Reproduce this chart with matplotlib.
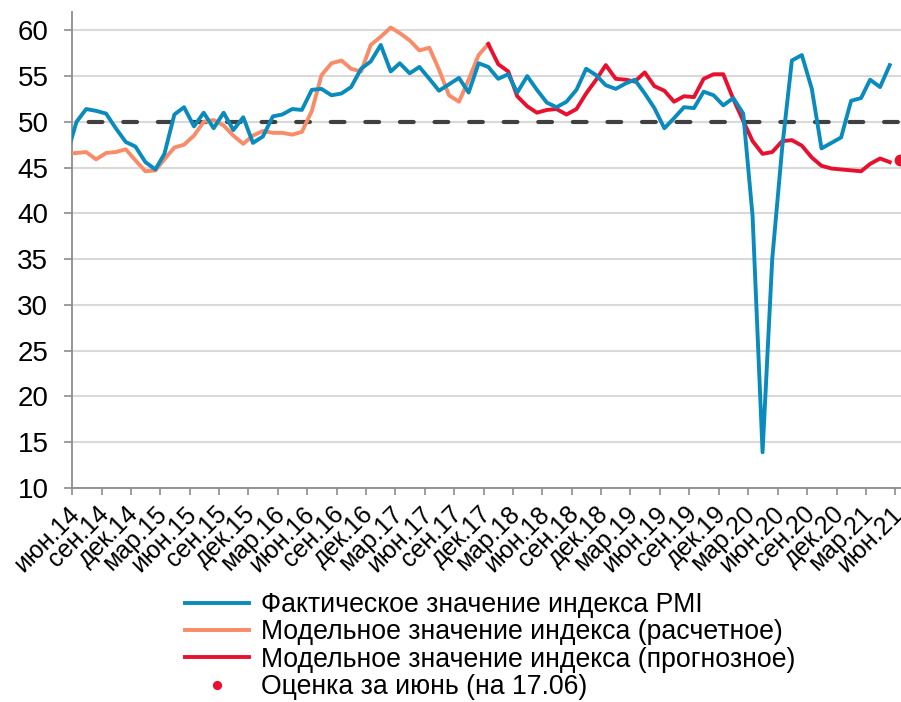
import matplotlib
matplotlib.use("Agg")
import matplotlib.pyplot as plt
import matplotlib.transforms as mtransforms
import pandas as pd

plt.rcParams['font.family'] = ['Liberation Sans', 'DejaVu Sans']

# monthly values, May 2014 .. May 2021 (points sit mid-month)
months = pd.date_range('2014-05-01', '2021-05-01', freq='MS') + pd.Timedelta(days=14)

pmi_fact = [46.3, 50.0, 51.4, 51.2, 50.9, 49.3, 47.8, 47.3, 45.6, 44.8, 46.5,
            50.8, 51.6, 49.5, 51.0, 49.3, 51.0, 49.1, 50.5, 47.7, 48.4, 50.6,
            50.8, 51.4, 51.3, 53.5, 53.6, 52.9, 53.1, 53.8, 55.8, 56.6, 58.4,
            55.5, 56.4, 55.3, 56.0, 54.7, 53.4, 54.1, 54.8, 53.2, 56.4, 56.0,
            54.7, 55.2, 53.2, 55.0, 53.5, 52.1, 51.6, 52.2, 53.5, 55.8, 55.1,
            54.0, 53.6, 54.2, 54.6, 53.1, 51.5, 49.3, 50.4, 51.6, 51.5, 53.3,
            52.9, 51.8, 52.6, 50.9, 39.7, 13.9, 35.0, 47.2, 56.7, 57.3, 53.6,
            47.1, 47.7, 48.3, 52.3, 52.6, 54.6, 53.8, 56.2]

# model (calculated): May 2014 .. Dec 2017
pmi_model_calc = [46.5, 46.6, 46.7, 45.9, 46.6, 46.7, 47.0, 45.8, 44.6, 44.7,
                  45.9, 47.2, 47.5, 48.5, 50.0, 50.2, 49.6, 48.5, 47.6, 48.5,
                  49.0, 48.8, 48.8, 48.6, 48.9, 51.2, 55.1, 56.4, 56.7, 55.8,
                  55.5, 58.4, 59.3, 60.3, 59.7, 58.9, 57.8, 58.1, 55.7, 52.9,
                  52.2, 54.6, 57.3, 58.5]

# model (forecast): Dec 2017 .. May 2021
pmi_model_fcst = [58.5, 56.3, 55.5, 52.8, 51.7, 51.0, 51.3, 51.4, 50.8, 51.4,
                  53.1, 54.6, 56.2, 54.7, 54.6, 54.4, 55.4, 53.9, 53.4, 52.2,
                  52.8, 52.7, 54.7, 55.2, 55.2, 52.5, 50.1, 47.9, 46.5, 46.7,
                  47.9, 48.0, 47.4, 46.1, 45.2, 44.9, 44.8, 44.7, 44.6, 45.4,
                  46.0, 45.6]

june_date = pd.Timestamp('2021-06-15')
june_estimate = 45.85

tick_dates = pd.date_range('2014-06-01', '2021-06-01', freq='3MS')
tick_labels = ['июн.14', 'сен.14', 'дек.14', 'мар.15', 'июн.15', 'сен.15',
               'дек.15', 'мар.16', 'июн.16', 'сен.16', 'дек.16', 'мар.17',
               'июн.17', 'сен.17', 'дек.17', 'мар.18', 'июн.18', 'сен.18',
               'дек.18', 'мар.19', 'июн.19', 'сен.19', 'дек.19', 'мар.20',
               'июн.20', 'сен.20', 'дек.20', 'мар.21', 'июн.21']

fig = plt.figure(figsize=(9.01, 7.02), dpi=100)
ax = fig.add_axes([72 / 901, 1 - 488 / 702, 1 - 72 / 901, (488 - 12) / 702])

blue = '#0a8bbd'
orange = '#f98b68'
red = '#e9102f'

ax.axhline(50, color='#404040', lw=3.0, linestyle=(4.3, (3.3, 5.0)),
           dash_capstyle='round', zorder=2)
ax.plot(months, pmi_fact, color=blue, lw=2.8, zorder=4,
        label='Фактическое значение индекса PMI')
ax.plot(months[:len(pmi_model_calc)], pmi_model_calc, color=orange, lw=2.8, zorder=3,
        label='Модельное значение индекса (расчетное)')
ax.plot(months[len(pmi_model_calc) - 1:], pmi_model_fcst, color=red, lw=2.8, zorder=3,
        label='Модельное значение индекса (прогнозное)')
ax.plot([june_date], [june_estimate], 'o', color=red, ms=7.5, clip_on=False, zorder=5,
        label='Оценка за июнь (на 17.06)')

ax.set_ylim(10, 62)
ax.set_yticks(range(10, 61, 5))
ax.set_xlim(pd.Timestamp('2014-06-01'), pd.Timestamp('2021-06-19'))
ax.set_xticks(tick_dates)
ax.set_xticklabels(tick_labels)

ax.grid(axis='y', color='#d9d9d9', lw=1.5, zorder=0)
ax.set_axisbelow(True)
for s in ['top', 'right']:
    ax.spines[s].set_visible(False)
for s in ['left', 'bottom']:
    ax.spines[s].set_color('#8c8c8c')
    ax.spines[s].set_linewidth(1.3)

ax.tick_params(axis='y', length=6, width=1.2, color='#8c8c8c', pad=11, labelsize=20)
ax.tick_params(axis='x', length=5, width=1.2, color='#8c8c8c', pad=5, labelsize=18)

shift = mtransforms.ScaledTranslation(-5 / 100, 0, fig.dpi_scale_trans)
for lab in ax.get_xticklabels():
    lab.set_rotation(45)
    lab.set_ha('right')
    lab.set_va('top')
    lab.set_rotation_mode('anchor')
    lab.set_transform(lab.get_transform() + shift)

fig.legend(loc='upper left', bbox_to_anchor=(185 / 901, 1 - 592 / 702),
           frameon=False, fontsize=19.2, handlelength=2.4, handletextpad=0.45,
           labelspacing=0.05, borderpad=0, borderaxespad=0, markerscale=0.75)

fig.savefig('out.png', dpi=100)
